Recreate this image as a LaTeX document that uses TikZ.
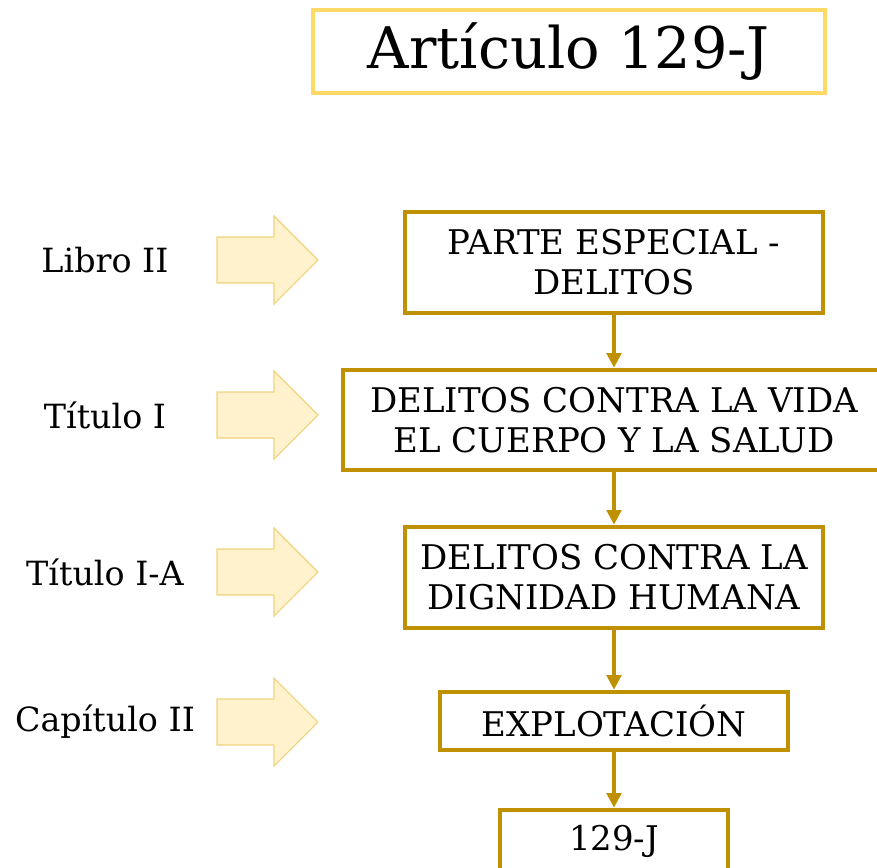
\documentclass[tikz,border=0pt]{standalone}
\usepackage{fontspec}
\setmainfont{DejaVu Serif}
\usetikzlibrary{arrows.meta}
\definecolor{gold}{HTML}{BF9000}
\definecolor{lightgold}{HTML}{FFD966}
\definecolor{paleyellow}{HTML}{FFF2CC}
\definecolor{arrowedge}{HTML}{F1D27E}
\tikzset{
    box/.style={draw=gold,line width=3.5pt,align=center,inner sep=0pt,
        font=\fontsize{25.5}{30}\selectfont},
    sidetext/.style={font=\fontsize{25}{30}\selectfont},
    conn/.style={draw=gold,line width=2.5pt,-{Triangle[width=11pt,length=11pt]}}
}
\newcommand\SideArrow[3]{%
    \filldraw[fill=paleyellow,draw=arrowedge,line width=0.8pt] (217,#1-23) -- (274,#1-23) -- (274,#1-44) -- (318,#1) -- (274,#1+44) -- (274,#1+23) -- (217,#1+23) -- cycle;
    \node[sidetext] (#2) at (105,#1) {#3};
}

\begin{document}
\begin{tikzpicture}[x=0.75pt,y=-0.75pt]
    \useasboundingbox (0,0) rectangle (877,867);
    \node[draw=lightgold,line width=3pt,minimum width=384pt,minimum height=62.25pt,
        font=\fontsize{43}{50}\selectfont] (Title) at (569,51.5) {Artículo 129-J};
    \SideArrow{260}{Libro}{Libro II}
    \SideArrow{415}{Titulo}{Título I}
    \SideArrow{572}{TituloA}{Título I-A}
    \SideArrow{722}{Capitulo}{Capítulo II}
    \node[box,minimum width=313.5pt,minimum height=75.75pt] (Parte) at (614,262.5) {PARTE ESPECIAL -\\DELITOS};
    \node[box,minimum width=406.5pt,minimum height=75pt] (Vida) at (614,420) {DELITOS CONTRA LA VIDA\\EL CUERPO Y LA SALUD};
    \node[box,minimum width=313.5pt,minimum height=75.75pt] (Dignidad) at (614,577.5) {DELITOS CONTRA LA\\DIGNIDAD HUMANA};
    \node[box,minimum width=261pt,minimum height=43.5pt] (Explotacion) at (614,721) {EXPLOTACIÓN};
    \node[box,minimum width=171pt,minimum height=46.5pt] (Articulo) at (614,841) {129-J};
    \draw[conn] (Parte) -- (Vida);
    \draw[conn] (Vida) -- (Dignidad);
    \draw[conn] (Dignidad) -- (Explotacion);
    \draw[conn] (Explotacion) -- (Articulo);
\end{tikzpicture}
\end{document}
